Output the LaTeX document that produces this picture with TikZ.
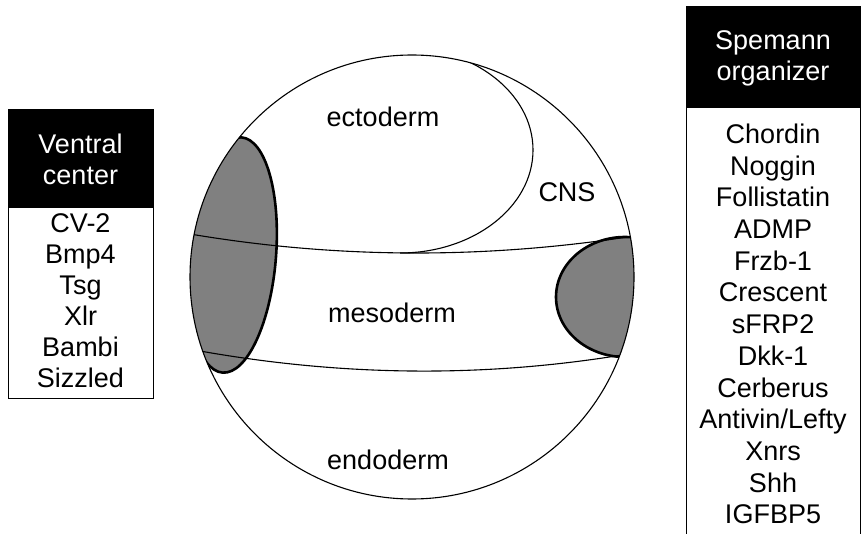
\documentclass[tikz,border=0pt]{standalone}
\usepackage{fontspec}
\setmainfont{Liberation Sans}
\begin{document}
\begin{tikzpicture}[x=1pt,y=-1pt,
    lbl/.style={font=\fontsize{27}{31}\selectfont,align=center,inner sep=0pt},
    rim/.style={line width=1.1pt},
    pole/.style={line width=2.6pt},
    ball/.style={fill=gray}]
  \useasboundingbox (0,0) rectangle (861,534);
  % ventral center box
  \fill (8,110) rectangle (153,208);
  \draw[line width=1pt] (8,110) rectangle (153,398);
  \node[lbl,text=white] (vchead) at (80.5,159) {Ventral\\center};
  \node[lbl] (vclist) at (80.5,301) {CV-2\\Bmp4\\Tsg\\Xlr\\Bambi\\Sizzled};
  % Spemann organizer box
  \fill (686,7) rectangle (861,108);
  \draw[line width=1pt] (686,534) -- (686,7) -- (860,7) -- (860,534);
  \node[lbl,text=white] (sohead) at (773,58) {Spemann\\organizer};
  \node[lbl,font=\fontsize{27}{31.7}\selectfont] (solist) at (773,324)
    {Chordin\\Noggin\\Follistatin\\ADMP\\Frzb-1\\Crescent\\sFRP2\\Dkk-1\\Cerberus\\Antivin/Lefty\\Xnrs\\Shh\\IGFBP5};
  % embryo
  \fill[white] (412,277) circle[radius=222];
  \begin{scope}
    \clip (412,277) circle[radius=222];
    \begin{scope}[shift={(232,255)},rotate=-4.6]
      \fill[ball] (0,0) ellipse[x radius=44,y radius=118];
      \draw[pole] (0,0) ellipse[x radius=44,y radius=118];
    \end{scope}
    \fill[ball] (625,297) ellipse[x radius=69,y radius=60];
    \draw[rim] (190,234) .. controls (338,259) and (486,259) .. (634,236);
    \draw[rim] (200,351) .. controls (341,376) and (481,378) .. (622,355);
    \draw[rim] (400,47) arc[start angle=-90,end angle=90,x radius=133,y radius=103];
    \draw[pole] (625,297) ellipse[x radius=69,y radius=60];
  \end{scope}
  \draw[rim] (412,277) circle[radius=222];
  \node[lbl] (ecto) at (383,117) {ectoderm};
  \node[lbl] (cns) at (567,192) {CNS};
  \node[lbl] (meso) at (392,313) {mesoderm};
  \node[lbl] (endo) at (388,460) {endoderm};
\end{tikzpicture}
\end{document}
